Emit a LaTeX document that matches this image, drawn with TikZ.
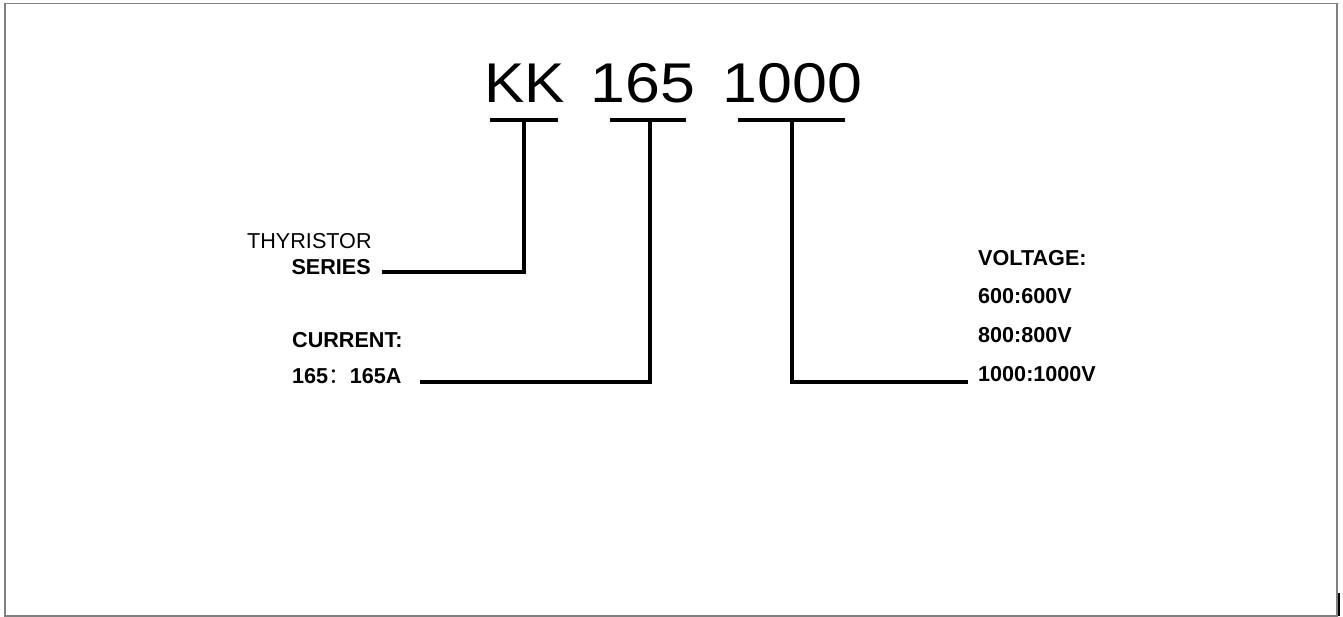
\documentclass[tikz,border=0pt]{standalone}
\usepackage{fontspec}
\setmainfont{Liberation Sans}
\newfontfamily\cjk{Noto Sans CJK SC}
\begin{document}
\begin{tikzpicture}[x=1pt,y=-1pt,
  big/.style={inner sep=0pt,font=\fontsize{56}{60}\selectfont,anchor=base},
  lbl/.style={inner sep=0pt,font=\fontsize{21.6}{24}\selectfont\bfseries,anchor=base west},
  lblr/.style={inner sep=0pt,font=\fontsize{21.6}{24}\selectfont,anchor=base west},
  conn/.style={line width=4pt,line cap=butt,line join=miter},
  frame/.style={draw=black!50,line width=1.5pt}]
\useasboundingbox (0,0) rectangle (1343,617);
\draw[frame] (5,3.5) rectangle (1337,616);
\fill[black] (1337.5,593) rectangle (1340,616);
% codes
\node[big] (kk) at (524.5,103) {\scalebox{1.08}[1]{KK}};
\node[big] (n165) at (643,103) {\scalebox{1.12}[1]{165}};
\node[big] (n1000) at (792.5,103) {\scalebox{1.12}[1]{1000}};
% underlines
\coordinate (ukl) at (490,120); \coordinate (ukr) at (558,120); \coordinate (uk) at (524,120);
\coordinate (u1l) at (610,120); \coordinate (u1r) at (686,120); \coordinate (u1) at (650,120);
\coordinate (u2l) at (738,120); \coordinate (u2r) at (845,120); \coordinate (u2) at (792,120);
\draw[conn] (ukl) -- (ukr);
\draw[conn] (u1l) -- (u1r);
\draw[conn] (u2l) -- (u2r);
% labels
\node[lblr] (thy) at (247,249) {THYRISTOR};
\node[lbl,anchor=base east] (ser) at (371,275) {SERIES};
\node[lbl] (cur) at (292,348) {CURRENT:};
\node[lbl] (cv) at (292,383) {165{\cjk\mdseries ：}165A};
\node[lbl] (vol) at (978,266) {VOLTAGE:};
\node[lbl] (v6) at (978,304) {600:600V};
\node[lbl] (v8) at (978,342) {800:800V};
\node[lbl] (v10) at (978,381) {1000:1000V};
% connectors
\coordinate (ek) at (382,272);
\coordinate (e1) at (420,382);
\coordinate (e2) at (968,382);
\draw[conn] (uk) |- (ek);
\draw[conn] (u1) |- (e1);
\draw[conn] (u2) |- (e2);
\end{tikzpicture}
\end{document}
